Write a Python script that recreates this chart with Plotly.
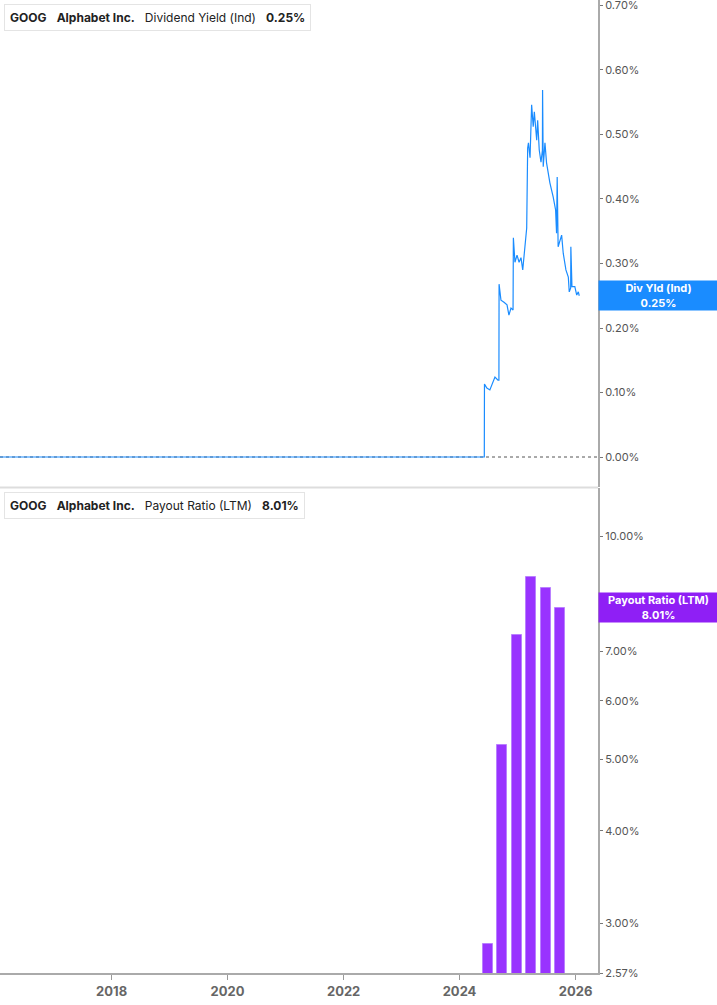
import plotly.graph_objects as go

# Dividend yield (Ind), in %
yield_dates = [
    "2016-01-01", "2024-06-05", "2024-06-06", "2024-06-21", "2024-07-10", "2024-07-29",
    "2024-08-11", "2024-08-30", "2024-09-05", "2024-09-06", "2024-09-18", "2024-10-07",
    "2024-10-26", "2024-11-07", "2024-11-20", "2024-12-03", "2024-12-05", "2024-12-15",
    "2024-12-28", "2025-01-10", "2025-01-22", "2025-02-02", "2025-02-12", "2025-02-27",
    "2025-03-05", "2025-03-10", "2025-03-20", "2025-03-30", "2025-04-09", "2025-04-16",
    "2025-05-01", "2025-05-07", "2025-05-17", "2025-05-28", "2025-06-06", "2025-06-07",
    "2025-06-11", "2025-06-22", "2025-07-02", "2025-07-23", "2025-08-13", "2025-08-28",
    "2025-09-03", "2025-09-07", "2025-09-13", "2025-10-05", "2025-10-15", "2025-11-01",
    "2025-11-16", "2025-11-22", "2025-12-01", "2025-12-02", "2025-12-09", "2025-12-27",
    "2026-01-08", "2026-01-18", "2026-01-24",
]
yield_values = [
    0.0, 0.0, 0.113, 0.107, 0.104, 0.115,
    0.124, 0.119, 0.119, 0.268, 0.243, 0.240,
    0.236, 0.220, 0.231, 0.228, 0.340, 0.302,
    0.313, 0.302, 0.309, 0.290, 0.321, 0.355,
    0.479, 0.487, 0.464, 0.546, 0.512, 0.535,
    0.491, 0.522, 0.476, 0.457, 0.476, 0.569,
    0.450, 0.487, 0.456, 0.425, 0.403, 0.383,
    0.347, 0.434, 0.326, 0.344, 0.316, 0.290,
    0.279, 0.256, 0.262, 0.326, 0.264, 0.264,
    0.251, 0.256, 0.250,
]

# Payout ratio (LTM), quarterly, in %
payout_dates = ["2024-06-27", "2024-09-27", "2024-12-28", "2025-03-28", "2025-06-27", "2025-09-26"]
payout_values = [2.81, 5.22, 7.35, 8.81, 8.52, 8.01]

yield_ticks = [0.0, 0.1, 0.2, 0.3, 0.4, 0.5, 0.6, 0.7]
payout_ticks = [2.57, 3, 4, 5, 6, 7, 8, 10]
year_ticks = ["2018-01-01", "2020-01-01", "2022-01-01", "2024-01-01", "2026-01-01"]
year_labels = ["2018", "2020", "2022", "2024", "2026"]

BLUE = "#1a8cff"
PURPLE = "#8f1ff5"
BAR = "#9933ff"
FONT = "Inter"

fig = go.Figure()

fig.add_trace(go.Scatter(
    x=yield_dates, y=yield_values, mode="lines",
    line=dict(color=BLUE, width=1.2), xaxis="x", yaxis="y", showlegend=False,
))
fig.add_trace(go.Bar(
    x=payout_dates, y=payout_values, width=63 * 86400000,
    marker=dict(color=BAR, line=dict(color="#b980ff", width=1)),
    xaxis="x", yaxis="y2", showlegend=False,
))

# plot area 598 x 973 px
top_dom = [(973 - 487) / 973, 1]
bot_dom = [0, (973 - 488) / 973]

fig.update_layout(
    width=717, height=1005,
    margin=dict(l=0, r=119, t=0, b=32, autoexpand=False),
    paper_bgcolor="white", plot_bgcolor="white",
    font=dict(family=FONT, size=11, color="#555"),
    bargap=0,
    xaxis=dict(
        type="date", range=["2016-01-29", "2026-05-22"], anchor="y2",
        showgrid=False, zeroline=False,
        showline=True, linecolor="#aaaaaa", linewidth=2,
        ticks="outside", ticklen=5, tickcolor="#999",
        tickvals=year_ticks, ticktext=year_labels,
        tickfont=dict(family=FONT, size=13, color="#666", weight=700),
    ),
    yaxis=dict(
        domain=top_dom, side="right", anchor="x",
        range=[-0.0465, 0.7085],
        showgrid=False, zeroline=False,
        showline=True, linecolor="#aaaaaa", linewidth=2,
        ticks="outside", ticklen=3, tickcolor="#777",
        ticklabeloverflow="allow",
        tickvals=yield_ticks, ticktext=[f"{v:.2f}%" for v in yield_ticks],
        tickfont=dict(family=FONT, size=11, color="#555"),
    ),
    yaxis2=dict(
        domain=bot_dom, side="right", anchor="x", type="log",
        range=[0.40993, 1.0657],
        showgrid=False, zeroline=False,
        showline=True, linecolor="#aaaaaa", linewidth=2,
        ticks="outside", ticklen=3, tickcolor="#777",
        ticklabeloverflow="allow",
        tickvals=payout_ticks, ticktext=[f"{v:.2f}%" for v in payout_ticks],
        tickfont=dict(family=FONT, size=11, color="#555"),
    ),
)

# zero reference line and panel separator
fig.add_shape(type="line", xref="paper", yref="y", x0=0, x1=1, y0=0, y1=0,
              line=dict(color="#555", width=1, dash="dot"), layer="below")
fig.add_shape(type="line", xref="paper", yref="paper", x0=0, x1=1,
              y0=(973 - 487.5) / 973, y1=(973 - 487.5) / 973,
              line=dict(color="#dddddd", width=2))

sp = "\u00a0\u00a0\u00a0"
legends = [
    (4, BLUE, f"<b>GOOG</b>{sp}<b>Alphabet Inc.</b>{sp}Dividend Yield (Ind){sp}<b>0.25%</b>"),
    (492, PURPLE, f"<b>GOOG</b>{sp}<b>Alphabet Inc.</b>{sp}Payout Ratio (LTM){sp}<b>8.01%</b>"),
]
for top, col, txt in legends:
    fig.add_annotation(
        xref="paper", yref="paper", x=4 / 598, y=(973 - top) / 973,
        xanchor="left", yanchor="top", text=txt, showarrow=False, align="left",
        font=dict(family=FONT, size=12, color="#222"),
        bgcolor="white", bordercolor="#e4e4e4", borderwidth=1, borderpad=5,
    )
    fig.add_shape(type="rect", xref="paper", yref="paper",
                  x0=4 / 598, x1=7 / 598, y0=(973 - top - 26) / 973, y1=(973 - top) / 973,
                  fillcolor=col, line=dict(width=0))

# right-side value labels
fig.add_annotation(
    xref="paper", yref="y", x=1, y=yield_values[-1], xanchor="left", yanchor="middle",
    text="<b>Div Yld (Ind)</b><br><b>0.25%</b>", showarrow=False,
    width=115, height=25, borderpad=2, bgcolor=BLUE,
    font=dict(family=FONT, size=11, color="white"),
)
fig.add_annotation(
    xref="paper", yref="y2", x=1, y=0.9036, xanchor="left", yanchor="middle",
    text="<b>Payout Ratio (LTM)</b><br><b>8.01%</b>", showarrow=False,
    width=115, height=25, borderpad=2, bgcolor=PURPLE,
    font=dict(family=FONT, size=11, color="white"),
)

fig.write_html("out.html", config={"displayModeBar": False},
               post_script="document.body.style.margin='0';")
